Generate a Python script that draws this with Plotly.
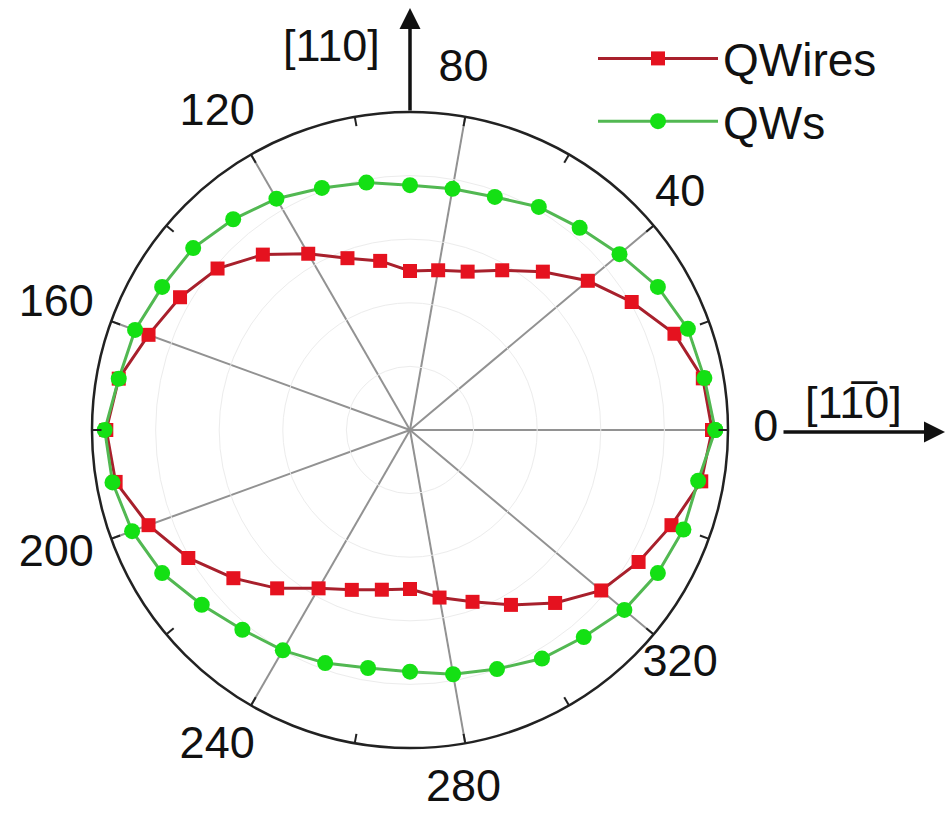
import plotly.graph_objects as go

# Data (angle in degrees, normalized intensity)
angles = [0, 10, 20, 30, 40, 50, 60, 70, 80, 90, 100, 110, 120, 130, 140, 150, 160, 170,
          180, 190, 200, 210, 220, 230, 240, 250, 260, 270, 280, 290, 300, 310, 320, 330, 340, 350]
qwires = [0.95, 0.935, 0.885, 0.805, 0.73, 0.65, 0.58, 0.53, 0.51, 0.50, 0.54, 0.575, 0.64, 0.72,
          0.79, 0.835, 0.875, 0.93, 0.955, 0.94, 0.875, 0.805, 0.725, 0.65, 0.575, 0.535, 0.51, 0.50,
          0.535, 0.575, 0.635, 0.71, 0.785, 0.83, 0.875, 0.93]
qws = [0.96, 0.94, 0.93, 0.90, 0.86, 0.83, 0.81, 0.78, 0.77, 0.77, 0.79, 0.81, 0.84, 0.865,
       0.89, 0.90, 0.92, 0.93, 0.96, 0.95, 0.93, 0.90, 0.855, 0.82, 0.80, 0.78, 0.76, 0.76,
       0.78, 0.80, 0.83, 0.85, 0.88, 0.90, 0.915, 0.92]
label_angles = [0, 40, 80, 120, 160, 200, 240, 280, 320]
label_text = [str(a) for a in label_angles]
minor_angles = list(range(0, 360, 20))

W, H = 949, 820
cx, cy, R = 410, 430, 318
RMAX = 1.0          # main radial range
RLAB = 1.2          # range of the label overlay (same scale, larger extent)
label_r = 1.15      # radius at which angle labels are drawn
lab_dx = -10        # small horizontal nudge of the label ring


def domain(scale, dx=0):
    rr = R * scale
    return dict(x=[(cx + dx - rr) / W, (cx + dx + rr) / W],
                y=[1 - (cy + rr) / H, 1 - (cy - rr) / H])


font_main = "Liberation Sans, Arial, sans-serif"

fig = go.Figure()
# dummy so the base polar subplot (spokes, outline, faint circles) is drawn
fig.add_trace(go.Scatterpolar(r=[], theta=[], mode="markers", showlegend=False,
                              hoverinfo="skip", subplot="polar"))
th_closed = angles + [angles[0] + 360]
fig.add_trace(go.Scatterpolar(
    r=qwires + [qwires[0]], theta=th_closed, mode="lines+markers", name="QWires",
    line=dict(color="#a8202c", width=3),
    marker=dict(symbol="square", size=14, color="#e5121f"),
    subplot="polar2"))
fig.add_trace(go.Scatterpolar(
    r=qws + [qws[0]], theta=th_closed, mode="lines+markers", name="QWs",
    line=dict(color="#52b852", width=3),
    marker=dict(symbol="circle", size=16, color="#14e014"),
    subplot="polar2"))
# angular labels through an overlay polar with the same radial scale
fig.add_trace(go.Scatterpolar(
    r=[label_r] * len(label_angles), theta=label_angles, text=label_text,
    mode="text", textposition="middle center",
    textfont=dict(size=45, family=font_main, color="#111"),
    showlegend=False, hoverinfo="skip", subplot="polar3"))

fig.update_layout(
    width=W, height=H,
    margin=dict(l=0, r=0, t=0, b=0),
    paper_bgcolor="white",
    font=dict(family=font_main, color="#111", size=44),
    polar=dict(
        domain=domain(1.0),
        bgcolor="white",
        angularaxis=dict(
            tickmode="array", tickvals=label_angles,
            showticklabels=False, ticks="",
            showgrid=True, gridcolor="#929292", gridwidth=1.8,
            showline=True, linecolor="#222", linewidth=2.5,
            direction="counterclockwise", rotation=0),
        radialaxis=dict(
            range=[0, RMAX], tickvals=[0.2, 0.4, 0.6, 0.8],
            showgrid=True, gridcolor="#ececec", gridwidth=1,
            showticklabels=False, ticks="", showline=False),
    ),
    polar2=dict(
        domain=domain(1.0),
        bgcolor="rgba(0,0,0,0)",
        angularaxis=dict(
            tickmode="array", tickvals=minor_angles,
            ticks="inside", ticklen=9, tickwidth=2, tickcolor="#222",
            showticklabels=False, showgrid=False, showline=False,
            direction="counterclockwise", rotation=0),
        radialaxis=dict(range=[0, RMAX], visible=False),
    ),
    polar3=dict(
        domain=domain(RLAB / RMAX, lab_dx),
        bgcolor="rgba(0,0,0,0)",
        angularaxis=dict(visible=False, direction="counterclockwise", rotation=0),
        radialaxis=dict(range=[0, RLAB], visible=False),
    ),
    legend=dict(
        x=593 / W, y=1 - 22 / H, xanchor="left", yanchor="top",
        bgcolor="rgba(0,0,0,0)", itemwidth=120,
        font=dict(size=46, family=font_main, color="#111"),
        tracegroupgap=0),
    showlegend=True,
)

# Crystal direction arrows and labels
fig.add_annotation(x=cx / W, y=1 - 8 / H, xref="paper", yref="paper",
                   ax=0, ay=cy - R - 8, axref="pixel", ayref="pixel",
                   showarrow=True, arrowhead=2, arrowsize=1.2, arrowwidth=3.5,
                   arrowcolor="#111", text="")
fig.add_annotation(x=945 / W, y=1 - 432 / H, xref="paper", yref="paper",
                   ax=-163, ay=0, axref="pixel", ayref="pixel",
                   showarrow=True, arrowhead=2, arrowsize=1.2, arrowwidth=3.5,
                   arrowcolor="#111", text="")
fig.add_annotation(x=331 / W, y=1 - 45 / H, xref="paper", yref="paper",
                   xanchor="center", yanchor="middle",
                   text="[110]", showarrow=False,
                   font=dict(size=45, family=font_main, color="#111"))
fig.add_annotation(x=853 / W, y=1 - 402 / H, xref="paper", yref="paper",
                   xanchor="center", yanchor="middle",
                   text="[11\u03050]", showarrow=False,
                   font=dict(size=45, family=font_main, color="#111"))

fig.write_html("out.html", config={"displayModeBar": False},
               post_script="document.body.style.margin='0';")
